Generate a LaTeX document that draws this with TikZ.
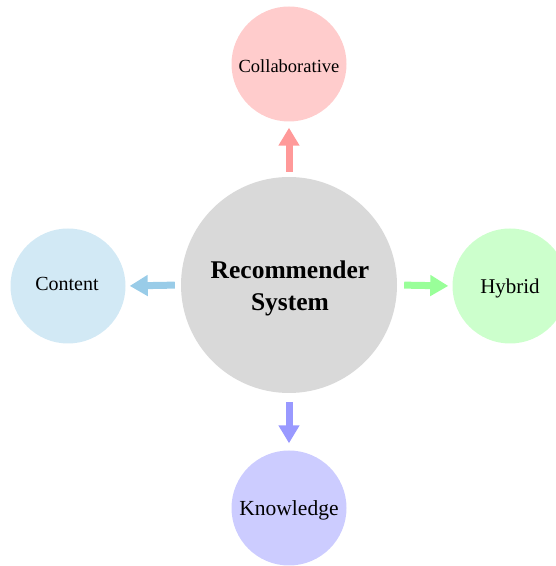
\documentclass[tikz,border=0pt]{standalone}
\usepackage{fontspec}
\setmainfont{Liberation Serif}
\usetikzlibrary{arrows.meta}
\definecolor{hubfill}{HTML}{D9D9D9}
\definecolor{collabfill}{HTML}{FFCCCC}
\definecolor{collabarrow}{HTML}{FF9999}
\definecolor{contentfill}{HTML}{D2E9F5}
\definecolor{contentarrow}{HTML}{99CCE8}
\definecolor{hybridfill}{HTML}{CCFFCC}
\definecolor{hybridarrow}{HTML}{99FF99}
\definecolor{knowfill}{HTML}{CCCCFF}
\definecolor{knowarrow}{HTML}{9999FF}
\begin{document}
\begin{tikzpicture}[x=1pt,y=1pt,
  hub/.style={circle, fill=hubfill, minimum size=216pt, inner sep=0pt,
    align=center, font=\fontsize{25.5}{32}\selectfont\bfseries},
  leaf/.style={circle, minimum size=115pt, inner sep=0pt},
  link/.style={line width=7pt, -{Triangle[width=20pt,length=18pt]}}]
  \useasboundingbox (0,0) rectangle (556,566);
  \clip (0,0) rectangle (556,566);

  % centre and the four approaches
  \node[hub] (rs) at (289,281) {};
  \node[align=center, font=\fontsize{25.5}{32}\selectfont\bfseries] (rslabel) at (290,278) {Recommender\\System};
  \node[leaf, fill=collabfill] (collab) at (289,502) {};
  \node[font=\fontsize{18.5}{20}\selectfont] (collablabel) at (289,500) {Collaborative};
  \node[leaf, fill=contentfill] (content) at (68,280) {};
  \node[font=\fontsize{20}{24}\selectfont] (contentlabel) at (67,282) {Content};
  \node[leaf, fill=hybridfill] (hybrid) at (510,280) {};
  \node[font=\fontsize{21}{24}\selectfont] (hybridlabel) at (510,278) {Hybrid};
  \node[leaf, fill=knowfill] (know) at (289,58) {};
  \node[font=\fontsize{21.5}{24}\selectfont] (knowlabel) at (289,56) {Knowledge};

  % arrows from the centre outwards
  \draw[link, draw=collabarrow, shorten <=5pt, shorten >=6pt] (rs) -- (collab);
  \draw[link, draw=contentarrow, shorten <=6pt, shorten >=4pt] (rs.west) -- (content.east);
  \draw[link, draw=hybridarrow, shorten <=7pt, shorten >=4pt] (rs.east) -- (hybrid.west);
  \draw[link, draw=knowarrow, shorten <=9pt, shorten >=7pt] (rs) -- (know);
\end{tikzpicture}
\end{document}
